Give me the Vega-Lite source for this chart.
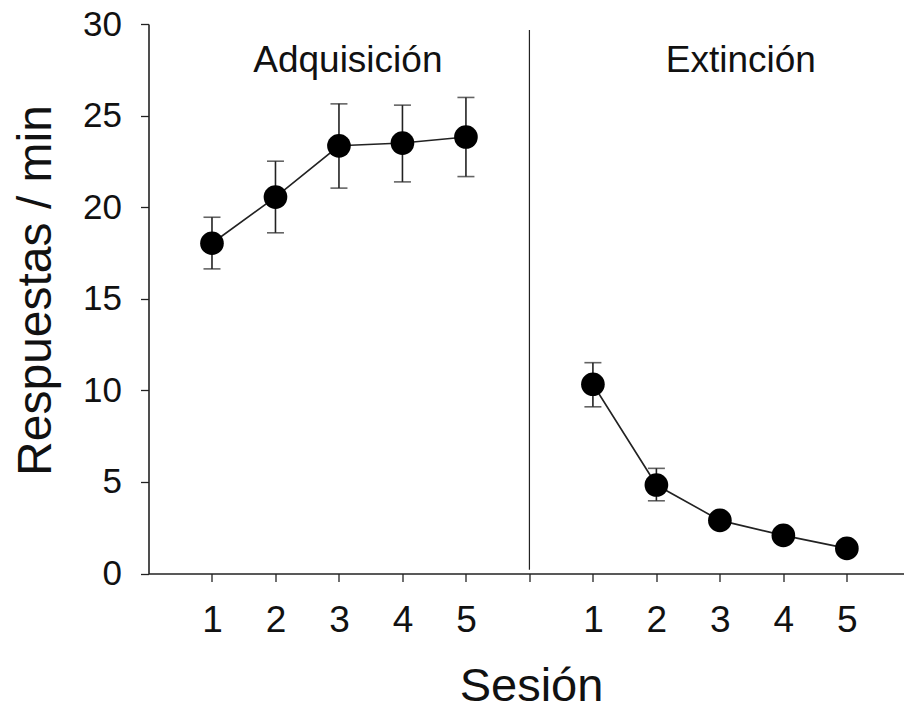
{
  "$schema": "https://vega.github.io/schema/vega-lite/v6.json",
  "autosize": "none",
  "width": 755.5,
  "height": 549.5,
  "padding": {"left": 148.5, "top": 24, "right": 0, "bottom": 141.5},
  "background": "white",
  "config": {"view": {"stroke": null}, "font": "Liberation Sans"},
  "datasets": {
    "pts": [
      {"fase": "Adquisición", "sesion": 1, "pos": 1, "media": 18.03, "lo": 16.63, "hi": 19.45},
      {"fase": "Adquisición", "sesion": 2, "pos": 2, "media": 20.55, "lo": 18.6, "hi": 22.51},
      {"fase": "Adquisición", "sesion": 3, "pos": 3, "media": 23.35, "lo": 21.04, "hi": 25.64},
      {"fase": "Adquisición", "sesion": 4, "pos": 4, "media": 23.5, "lo": 21.38, "hi": 25.57},
      {"fase": "Adquisición", "sesion": 5, "pos": 5, "media": 23.83, "lo": 21.67, "hi": 25.99},
      {"fase": "Extinción", "sesion": 1, "pos": 7, "media": 10.33, "lo": 9.1, "hi": 11.51},
      {"fase": "Extinción", "sesion": 2, "pos": 8, "media": 4.83, "lo": 3.97, "hi": 5.74},
      {"fase": "Extinción", "sesion": 3, "pos": 9, "media": 2.9, "lo": 2.9, "hi": 2.9},
      {"fase": "Extinción", "sesion": 4, "pos": 10, "media": 2.08, "lo": 2.08, "hi": 2.08},
      {"fase": "Extinción", "sesion": 5, "pos": 11, "media": 1.37, "lo": 1.37, "hi": 1.37}
    ],
    "divider": [{"pos": 6, "y1": 0.2, "y2": 29.67}],
    "titles": [
      {"label": "Adquisición", "pos": 3.14, "y": 27.4},
      {"label": "Extinción", "pos": 9.33, "y": 27.4}
    ]
  },
  "layer": [
    {
      "data": {"name": "divider"},
      "mark": {"type": "rule", "color": "#222", "strokeWidth": 1.2},
      "encoding": {
        "x": {"field": "pos", "type": "quantitative", "scale": {"domain": [0, 11.9], "nice": false, "zero": false},
          "axis": {
            "values": [1, 2, 3, 4, 5, 6, 7, 8, 9, 10, 11],
            "labelExpr": "datum.value == 6 ? '' : (datum.value > 6 ? datum.value - 6 : datum.value)",
            "grid": false, "domainColor": "#222", "domainWidth": 1.6, "tickColor": "#222", "tickWidth": 1.3, "tickSize": 8,
            "labelFontSize": 37, "labelColor": "#111", "labelPadding": 21, "labelFont": "Liberation Sans",
            "title": "Sesión", "titleFontSize": 47, "titleFontWeight": "normal", "titleColor": "#111",
            "titleX": 382.5, "titleY": 126.5, "titleBaseline": "alphabetic", "titleAlign": "center"
          }},
        "y": {"field": "y1", "type": "quantitative", "scale": {"domain": [0, 30], "nice": false},
          "axis": {
            "values": [0, 5, 10, 15, 20, 25, 30],
            "grid": false, "domainColor": "#222", "domainWidth": 1.6, "tickColor": "#222", "tickWidth": 1.3, "tickSize": 8,
            "labelFontSize": 35, "labelColor": "#111", "labelPadding": 19,
            "title": "Respuestas / min", "titleFontSize": 48, "titleFontWeight": "normal", "titleColor": "#111",
            "titleX": -98.5, "titleY": 266, "titleBaseline": "alphabetic", "titleAlign": "center", "titleAngle": -90
          }},
        "y2": {"field": "y2"}
      }
    },
    {
      "data": {"name": "titles"},
      "mark": {"type": "text", "fontSize": 37, "color": "#111", "baseline": "alphabetic", "align": "center"},
      "encoding": {
        "x": {"field": "pos", "type": "quantitative"},
        "y": {"field": "y", "type": "quantitative"},
        "text": {"field": "label"}
      }
    },
    {
      "data": {"name": "pts"},
      "mark": {"type": "rule", "color": "#222", "strokeWidth": 1.6},
      "encoding": {
        "x": {"field": "pos", "type": "quantitative"},
        "y": {"field": "lo", "type": "quantitative"},
        "y2": {"field": "hi"}
      }
    },
    {
      "data": {"name": "pts"},
      "mark": {"type": "tick", "orient": "horizontal", "color": "#222", "thickness": 1.6, "size": 17},
      "encoding": {
        "x": {"field": "pos", "type": "quantitative"},
        "y": {"field": "lo", "type": "quantitative"}
      }
    },
    {
      "data": {"name": "pts"},
      "mark": {"type": "tick", "orient": "horizontal", "color": "#222", "thickness": 1.6, "size": 17},
      "encoding": {
        "x": {"field": "pos", "type": "quantitative"},
        "y": {"field": "hi", "type": "quantitative"}
      }
    },
    {
      "data": {"name": "pts"},
      "mark": {"type": "line", "color": "#222", "strokeWidth": 1.6},
      "encoding": {
        "x": {"field": "pos", "type": "quantitative"},
        "y": {"field": "media", "type": "quantitative"},
        "detail": {"field": "fase"}
      }
    },
    {
      "data": {"name": "pts"},
      "mark": {"type": "point", "filled": true, "color": "#000", "opacity": 1, "size": 560},
      "encoding": {
        "x": {"field": "pos", "type": "quantitative"},
        "y": {"field": "media", "type": "quantitative"}
      }
    }
  ]
}
